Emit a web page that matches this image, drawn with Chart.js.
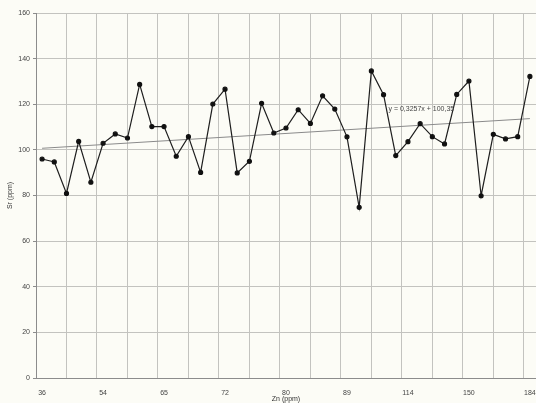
<!DOCTYPE html>
<html>
<head>
<meta charset="utf-8">
<script src="https://cdn.jsdelivr.net/npm/chart.js@4.4.1/dist/chart.umd.min.js"></script>
<style>
  html, body { margin: 0; padding: 0; background: #fcfcf6; }
  canvas { display: block; }
</style>
</head>
<body>
<canvas id="myChart" width="536" height="403"></canvas>
<script>
// Zn tick labels (every 5th sample) and Sr values
const tickLabels = ['36', '54', '65', '72', '80', '89', '114', '150', '184'];
const srValues = [96.0, 94.7, 80.9, 103.7, 85.8, 102.9, 107.0, 105.2, 128.7, 110.2,
  110.2, 97.2, 105.8, 90.1, 120.1, 126.6, 89.9, 95.0, 120.4, 107.4,
  109.6, 117.6, 111.6, 123.7, 117.9, 105.7, 74.8, 134.6, 124.2, 97.5,
  103.6, 111.5, 105.8, 102.6, 124.3, 130.2, 79.9, 106.8, 104.8, 105.8, 132.2];
const trendValues = [100.7, 113.7];
const trendLabel = 'y = 0,3257x + 100,35';

const n = srValues.length;
const fontFamily = '"Liberation Sans", Arial, sans-serif';

const trendText = {
  id: 'trendText',
  afterDatasetsDraw(chart) {
    const c = chart.ctx;
    const x = chart.scales.x.getPixelForValue(28.4);
    const y = chart.scales.y.getPixelForValue(118);
    c.save();
    c.font = '7px ' + fontFamily;
    c.fillStyle = '#444';
    c.textAlign = 'left';
    c.textBaseline = 'middle';
    c.fillText(trendLabel, x, y);
    c.restore();
  }
};

const ctx = document.getElementById('myChart').getContext('2d');
const myChart = new Chart(ctx, {
  type: 'line',
  data: {
    datasets: [
      {
        label: 'Sr',
        data: srValues.map((v, i) => ({ x: i, y: v })),
        borderColor: '#1e1e1e',
        borderWidth: 1.2,
        pointRadius: 2,
        pointBackgroundColor: '#111',
        pointBorderColor: '#111',
        tension: 0,
        clip: false
      },
      {
        label: 'Trend',
        data: [{ x: 0, y: trendValues[0] }, { x: n - 1, y: trendValues[1] }],
        borderColor: '#8a8a8a',
        borderWidth: 1,
        pointRadius: 0
      }
    ]
  },
  options: {
    responsive: false,
    animation: false,
    layout: { autoPadding: false, padding: { top: 13, right: 0, left: 0, bottom: 0 } },
    plugins: {
      legend: { display: false },
      tooltip: { enabled: false }
    },
    scales: {
      x: {
        type: 'linear',
        position: 'bottom',
        min: -0.5,
        max: n - 0.5,
        afterBuildTicks: (axis) => {
          axis.ticks = tickLabels.map((t, i) => ({ value: i * 5 }));
        },
        afterFit: (axis) => {
          axis.height = 25;
          axis.paddingLeft = 0;
          axis.paddingRight = 0;
        },
        ticks: {
          autoSkip: false,
          maxRotation: 0,
          padding: 3,
          color: '#444',
          font: { family: fontFamily, size: 7 },
          callback: (v) => tickLabels[Math.round(v / 5)]
        },
        grid: { display: false },
        border: { display: true, color: '#8c8c8c', width: 1 },
        title: {
          display: true,
          text: 'Zn (ppm)',
          color: '#333',
          padding: 0,
          font: { family: fontFamily, size: 7 }
        }
      },
      xg: {
        type: 'linear',
        position: 'top',
        min: -0.5,
        max: n - 0.5,
        afterBuildTicks: (axis) => {
          const t = [];
          for (let v = -0.5; v <= n - 0.5 + 0.001; v += 2.5) t.push({ value: v });
          axis.ticks = t;
        },
        afterFit: (axis) => {
          axis.height = 0;
          axis.paddingLeft = 0;
          axis.paddingRight = 0;
        },
        ticks: { display: false },
        grid: { color: '#c3c3bf', lineWidth: 1, drawTicks: false },
        border: { display: false }
      },
      y: {
        min: 0,
        max: 160,
        afterFit: (axis) => { axis.width = 36; },
        ticks: {
          stepSize: 20,
          padding: 3,
          color: '#444',
          font: { family: fontFamily, size: 7 }
        },
        grid: { color: '#c3c3bf', lineWidth: 1, tickLength: 3, tickColor: '#8c8c8c' },
        border: { display: true, color: '#8c8c8c', width: 1 },
        title: {
          display: true,
          text: 'Sr (ppm)',
          color: '#333',
          padding: 6,
          font: { family: fontFamily, size: 7 }
        }
      }
    }
  },
  plugins: [trendText]
});
</script>
</body>
</html>
